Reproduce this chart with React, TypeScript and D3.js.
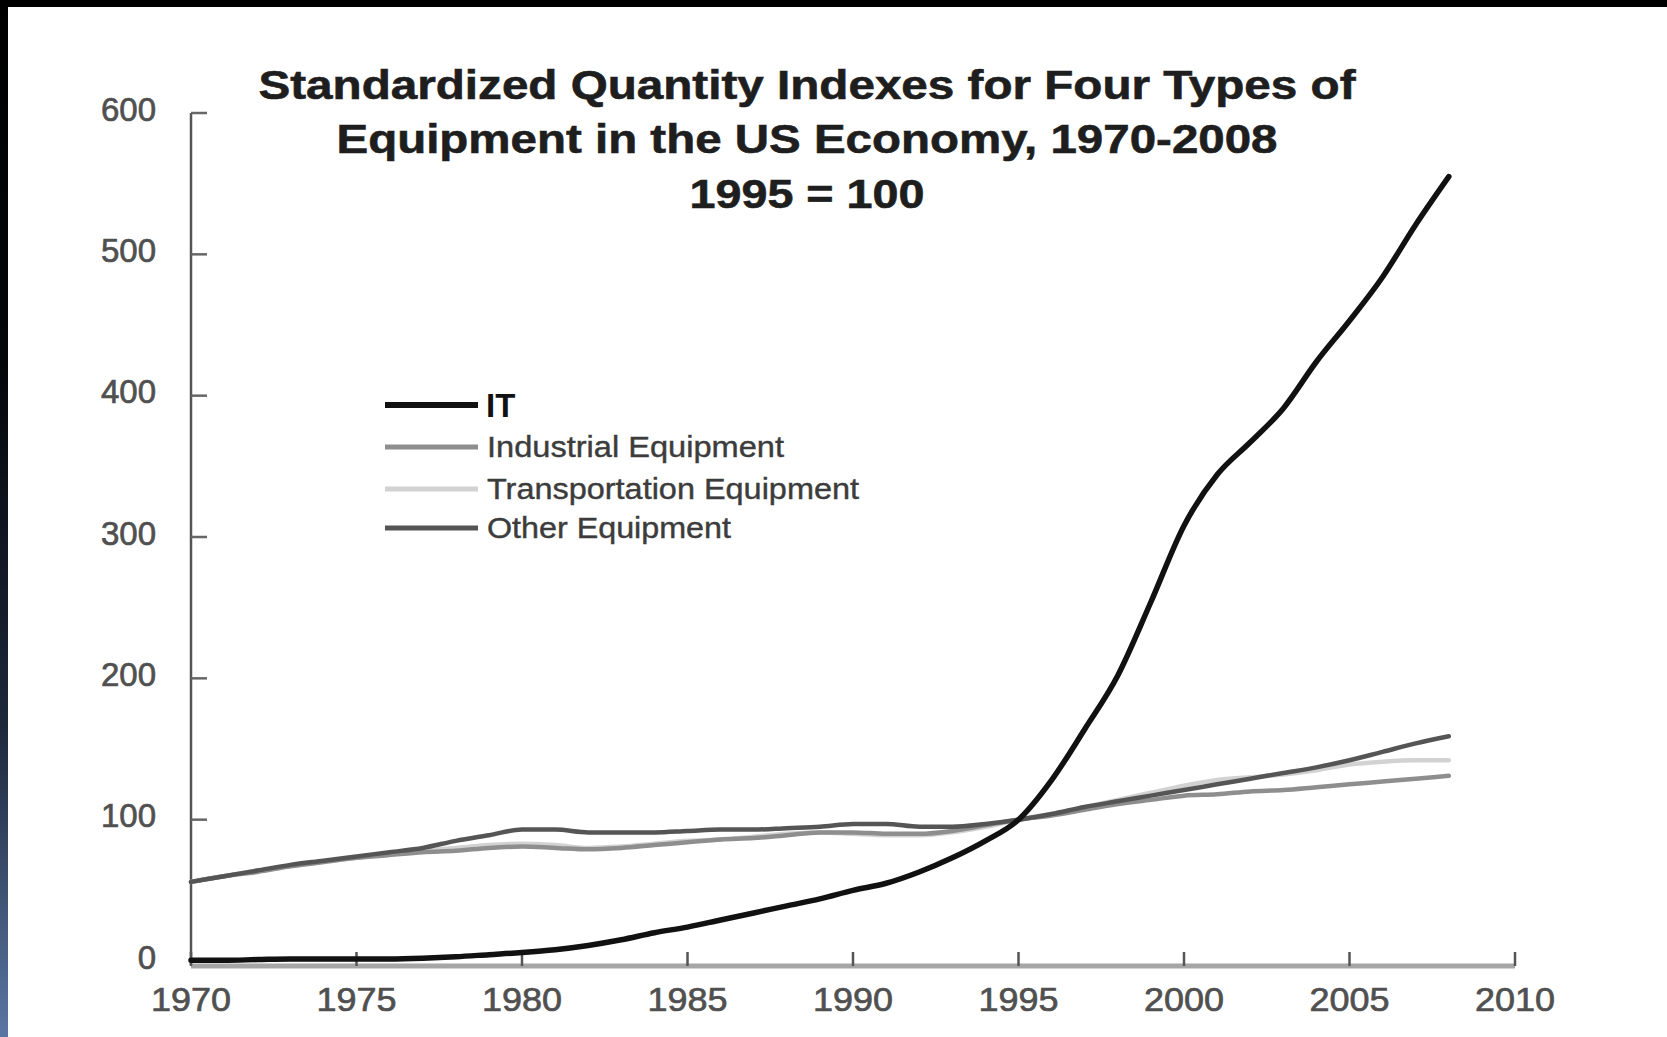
import React from "react";
import * as d3 from "d3";

const years: number[] = d3.range(1970, 2009);

const itValues: number[] = [
  0.5, 0.5, 1, 1.5, 1.5, 1.5, 1.5, 2, 3, 4.5,
  6, 8, 11, 15, 20, 24, 29, 34, 39, 44,
  50, 55, 63, 73, 85, 100, 128, 164, 202, 254,
  308, 344, 367, 391, 424, 453, 484, 521, 555,
];

const industrialValues: number[] = [
  56, 60, 63, 67, 70, 73, 75, 77, 78, 80,
  81, 80, 79, 80, 82, 84, 86, 87, 89, 91,
  91, 90, 90, 92, 96, 100, 103, 107, 111, 114,
  117, 118, 120, 121, 123, 125, 127, 129, 131,
];

const transportationValues: number[] = [
  56, 60, 64, 67, 70, 73, 76, 78, 80, 82,
  83, 82, 80, 81, 83, 85, 86, 88, 90, 91,
  90, 89, 89, 91, 95, 100, 104, 109, 114, 119,
  124, 128, 130, 132, 135, 139, 141, 142, 142,
];

const otherValues: number[] = [
  56, 60, 64, 68, 71, 74, 77, 80, 85, 89,
  93, 93, 91, 91, 91, 92, 93, 93, 94, 95,
  97, 97, 95, 95, 97, 100, 104, 109, 113, 117,
  121, 125, 129, 133, 137, 142, 148, 154, 159,
];

const seriesNames: string[] = [
  "IT",
  "Industrial Equipment",
  "Transportation Equipment",
  "Other Equipment",
];

const xTicks: number[] = [1970, 1975, 1980, 1985, 1990, 1995, 2000, 2005, 2010];
const yTicks: number[] = [0, 100, 200, 300, 400, 500, 600];

const titleLines: string[] = [
  "Standardized Quantity Indexes for Four Types of",
  "Equipment in the US Economy, 1970-2008",
  "1995 = 100",
];

const W = 1667;
const H = 1037;

export default function App() {
  const x = d3.scaleLinear().domain([1970, 2010]).range([191, 1515]);
  const y = d3.scaleLinear().domain([0, 600]).range([961, 113]);

  const line = d3
    .line<[number, number]>()
    .x((d) => x(d[0]))
    .y((d) => y(d[1]))
    .curve(d3.curveMonotoneX);

  const mk = (vals: number[]) => line(years.map((yr, i) => [yr, vals[i]] as [number, number])) || "";

  const styles = [
    { values: itValues, color: "#111", width: 5.5 },
    { values: industrialValues, color: "#8e8e8e", width: 4.5 },
    { values: transportationValues, color: "#d2d2d2", width: 4.5 },
    { values: otherValues, color: "#555", width: 4.5 },
  ];
  const drawOrder = [2, 1, 3, 0];

  const legendY = [405, 447, 489, 528];
  const legendLen = [0, 297, 372, 244];
  const titleLen = [1097, 941, 235];
  const titleY = [99, 153, 208];

  const fontFam = "'Liberation Sans', Arial, Helvetica, sans-serif";

  return (
    <div style={{ position: "absolute", left: 0, top: 0, width: W, height: H }}>
      <svg width={W} height={H} style={{ display: "block" }} fontFamily={fontFam}>
        <defs>
          <linearGradient id="leftStrip" x1="0" y1="0" x2="0" y2="1">
            <stop offset="0%" stopColor="#000" />
            <stop offset="35%" stopColor="#04060a" />
            <stop offset="70%" stopColor="#1d283b" />
            <stop offset="100%" stopColor="#5a76a3" />
          </linearGradient>
        </defs>
        <rect x={0} y={0} width={W} height={H} fill="#fff" />
        <rect x={0} y={0} width={W} height={7} fill="#000" />
        <rect x={0} y={0} width={8} height={H} fill="url(#leftStrip)" />

        {/* Title */}
        {titleLines.map((t, i) => (
          <text
            key={i}
            x={807}
            y={titleY[i]}
            textAnchor="middle"
            fontSize={40}
            fontWeight="bold"
            fill="#1e1e1e"
            stroke="#1e1e1e"
            strokeWidth={0.6}
            textLength={titleLen[i]}
            lengthAdjust="spacingAndGlyphs"
          >
            {t}
          </text>
        ))}

        {/* Y axis */}
        <line x1={191} x2={191} y1={y(600)} y2={y(0) + 4} stroke="#555" strokeWidth={2.5} />
        {yTicks.map((t) => (
          <g key={t}>
            <line x1={191} x2={207} y1={y(t)} y2={y(t)} stroke="#666" strokeWidth={2.5} />
            <text
              x={156}
              y={y(t) - 4}
              dy="0.35em"
              textAnchor="end"
              fontSize={33}
              fill="#505050"
              stroke="#505050"
              strokeWidth={0.7}
            >
              {t}
            </text>
          </g>
        ))}

        {/* X axis */}
        <line x1={191} x2={x(2010)} y1={y(0) + 5} y2={y(0) + 5} stroke="#a6a6a6" strokeWidth={5} />
        {xTicks.map((t) => (
          <g key={t}>
            <line x1={x(t)} x2={x(t)} y1={y(0) + 5} y2={y(0) - 9} stroke="#555" strokeWidth={2.5} />
            <text
              x={x(t)}
              y={1011}
              textAnchor="middle"
              fontSize={34}
              fill="#505050"
              stroke="#505050"
              strokeWidth={0.7}
              textLength={80}
              lengthAdjust="spacingAndGlyphs"
            >
              {t}
            </text>
          </g>
        ))}

        {/* Series */}
        {drawOrder.map((k) => (
          <path
            key={k}
            d={mk(styles[k].values)}
            fill="none"
            stroke={styles[k].color}
            strokeWidth={styles[k].width}
            strokeLinejoin="round"
            strokeLinecap="round"
          />
        ))}

        {/* Legend */}
        {seriesNames.map((name, i) => (
          <g key={name}>
            <line
              x1={385}
              x2={478}
              y1={legendY[i]}
              y2={legendY[i]}
              stroke={styles[i].color}
              strokeWidth={i === 0 ? 6 : 5}
            />
            {i === 0 ? (
              <text x={486} y={legendY[i]} dy="0.36em" fontSize={33} fontWeight="bold" fill="#111">
                {name}
              </text>
            ) : (
              <text
                x={487}
                y={legendY[i]}
                dy="0.36em"
                fontSize={29}
                fill="#3c3c3c"
                stroke="#3c3c3c"
                strokeWidth={0.4}
                textLength={legendLen[i]}
                lengthAdjust="spacingAndGlyphs"
              >
                {name}
              </text>
            )}
          </g>
        ))}
      </svg>
    </div>
  );
}
